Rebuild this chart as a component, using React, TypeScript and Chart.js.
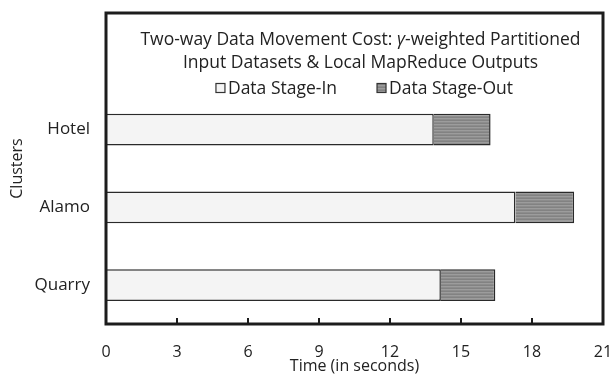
import { useEffect, useRef } from "react";
import { Chart, registerables } from "chart.js";

Chart.register(...registerables);

// ---- data ----
const clusters = ["", "Hotel", "Alamo", "Quarry"];
const stageIn = [null, 13.85, 17.3, 14.15];
const stageOut = [null, 2.4, 2.48, 2.3];
const xTickValues = [0, 3, 6, 9, 12, 15, 18, 21];
const seriesNames = ["Data Stage-In", "Data Stage-Out"];
const titleLine1 = ["Two-way Data Movement Cost: ", "\u03B3", "-weighted Partitioned"];
const titleLine2 = "Input Datasets & Local MapReduce Outputs";
const xTitle = "Time (in seconds)";
const yTitle = "Clusters";

const FONT = "'Open Sans', 'Noto Sans', sans-serif";
const TEXT = "#222222";
const FONT_SIZE = 16;
const TITLE_SIZE = 17.5;

function makePattern(): CanvasPattern | string {
  const c = document.createElement("canvas");
  c.width = 4;
  c.height = 3;
  const g = c.getContext("2d");
  if (!g) return "#8e8e8e";
  const rows = ["#828282", "#9c9c9c", "#8c8c8c"];
  rows.forEach((col, i) => {
    g.fillStyle = col;
    g.fillRect(0, i, 4, 1);
  });
  const p = g.createPattern(c, "repeat");
  return p || "#8e8e8e";
}

const overlayPlugin = {
  id: "overlay",
  afterDraw(chart: any) {
    const { ctx, chartArea } = chart;
    const { left, right, top, bottom } = chartArea;
    const xs = chart.scales.x;
    ctx.save();
    // inward tick marks on x axis
    ctx.strokeStyle = "#1c1c1c";
    ctx.lineWidth = 2;
    xTickValues.forEach((v) => {
      if (v === xTickValues[0] || v === xTickValues[xTickValues.length - 1]) return;
      const px = Math.round(xs.getPixelForValue(v));
      ctx.beginPath();
      ctx.moveTo(px, bottom);
      ctx.lineTo(px, bottom - 6);
      ctx.stroke();
    });
    // plot box
    ctx.lineWidth = 3;
    ctx.strokeStyle = "#1c1c1c";
    ctx.strokeRect(left, top, right - left, bottom - top);

    // title
    const cx = (left + right) / 2 + 6;
    ctx.fillStyle = TEXT;
    ctx.textBaseline = "middle";
    const normal = `${TITLE_SIZE}px ${FONT}`;
    const italic = `italic ${TITLE_SIZE}px ${FONT}`;
    const parts = titleLine1.map((t, i) => ({ t, f: i === 1 ? italic : normal }));
    let total = 0;
    parts.forEach((p) => {
      ctx.font = p.f;
      total += ctx.measureText(p.t).width;
    });
    let x = cx - total / 2;
    ctx.textAlign = "left";
    parts.forEach((p) => {
      ctx.font = p.f;
      ctx.fillText(p.t, x, top + 27);
      x += ctx.measureText(p.t).width;
    });
    ctx.font = normal;
    ctx.textAlign = "center";
    ctx.fillText(titleLine2, cx, top + 50);

    // legend
    const box = 9;
    const gap = 3;
    const spacing = 40;
    const w1 = ctx.measureText(seriesNames[0]).width;
    const w2 = ctx.measureText(seriesNames[1]).width;
    const lw = box + gap + w1 + spacing + box + gap + w2;
    let lx = cx + 4 - lw / 2;
    const ly = top + 75;
    const fills = [chart.data.datasets[0].backgroundColor, chart.data.datasets[1].backgroundColor];
    ctx.textAlign = "left";
    [w1, w2].forEach((w, i) => {
      ctx.fillStyle = fills[i];
      ctx.fillRect(lx, ly - box / 2, box, box);
      ctx.lineWidth = 1.2;
      ctx.strokeStyle = "#333";
      ctx.strokeRect(lx, ly - box / 2, box, box);
      ctx.fillStyle = TEXT;
      ctx.fillText(seriesNames[i], lx + box + gap, ly + 1);
      lx += box + gap + w + spacing;
    });
    ctx.restore();
  },
};

export default function App() {
  const ref = useRef<HTMLCanvasElement | null>(null);
  useEffect(() => {
    if (!ref.current) return;
    const pattern = makePattern();
    const chart = new Chart(ref.current, {
      type: "bar",
      data: {
        labels: clusters,
        datasets: [
          {
            label: seriesNames[0],
            data: stageIn as any,
            backgroundColor: "#f4f4f4",
            borderColor: "#2a2a2a",
            borderWidth: 1.5,
            barPercentage: 0.82,
            categoryPercentage: 0.5,
          },
          {
            label: seriesNames[1],
            data: stageOut as any,
            backgroundColor: pattern as any,
            borderColor: "#2a2a2a",
            borderWidth: 1.5,
            barPercentage: 0.82,
            categoryPercentage: 0.5,
          },
        ],
      },
      options: {
        indexAxis: "y",
        responsive: false,
        animation: false,
        layout: { padding: { top: 13, right: 10, left: 0, bottom: 0 } },
        plugins: {
          legend: { display: false },
          title: { display: false },
          tooltip: { enabled: false },
        },
        scales: {
          x: {
            type: "linear",
            stacked: true,
            min: 0,
            max: 21,
            afterBuildTicks: (scale: any) => {
              scale.ticks = xTickValues.map((v) => ({ value: v }));
            },
            afterFit: (scale: any) => {
              scale.height = 50;
            },
            grid: {
              display: true,
              drawOnChartArea: false,
              drawTicks: true,
              tickLength: 19,
              tickColor: "rgba(0,0,0,0)",
            },
            border: { display: false },
            ticks: {
              padding: 0,
              color: TEXT,
              font: { family: FONT, size: FONT_SIZE },
              maxRotation: 0,
            },
            title: {
              display: true,
              text: xTitle,
              color: TEXT,
              font: { family: FONT, size: FONT_SIZE, lineHeight: 1 },
              padding: { top: 0, bottom: 0 },
            },
          },
          y: {
            type: "category",
            stacked: true,
            afterFit: (scale: any) => {
              scale.width = 106;
            },
            grid: {
              display: true,
              drawOnChartArea: false,
              drawTicks: true,
              tickLength: 16,
              tickColor: "rgba(0,0,0,0)",
            },
            border: { display: false },
            ticks: {
              padding: 0,
              color: TEXT,
              font: { family: FONT, size: 17 },
            },
            title: {
              display: true,
              text: yTitle,
              color: TEXT,
              font: { family: FONT, size: FONT_SIZE, lineHeight: 1.2 },
              padding: { top: 8, bottom: 0 },
            },
          },
        },
      },
      plugins: [overlayPlugin],
    });
    return () => chart.destroy();
  }, []);
  return (
    <div style={{ position: "fixed", left: 0, top: 0, width: 613, height: 374, background: "#fff" }}>
      <canvas ref={ref} width={613} height={374} />
    </div>
  );
}
